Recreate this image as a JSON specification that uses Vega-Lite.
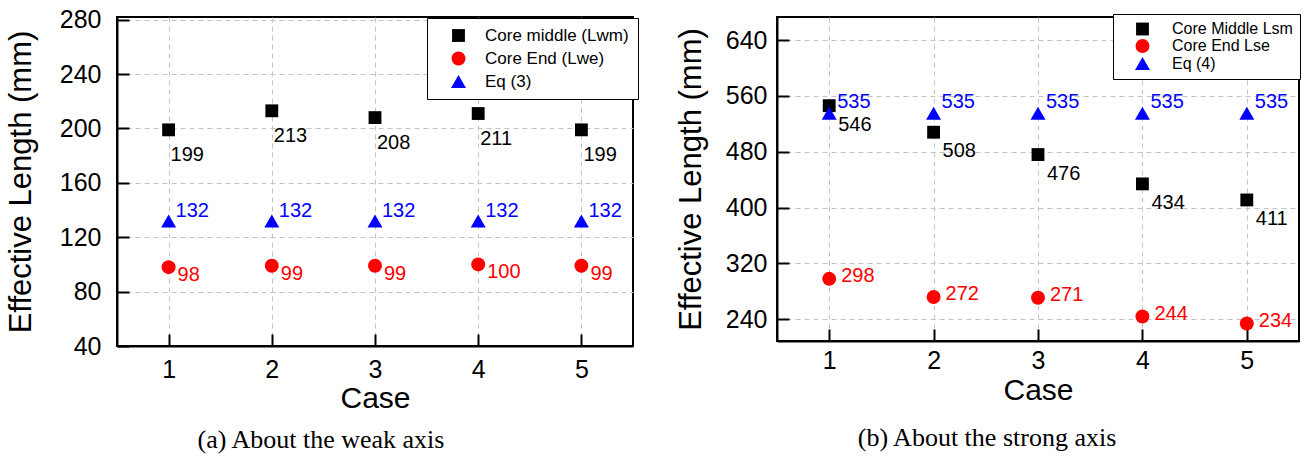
{
  "$schema": "https://vega.github.io/schema/vega-lite/v6.json",
  "background": "white",
  "padding": {"left": 4, "top": 6, "right": 2, "bottom": 2},
  "datasets": {
    "weak": [
      {"case": 1, "series": "Core middle (Lwm)", "value": 199},
      {"case": 2, "series": "Core middle (Lwm)", "value": 213},
      {"case": 3, "series": "Core middle (Lwm)", "value": 208},
      {"case": 4, "series": "Core middle (Lwm)", "value": 211},
      {"case": 5, "series": "Core middle (Lwm)", "value": 199},
      {"case": 1, "series": "Core End (Lwe)", "value": 98},
      {"case": 2, "series": "Core End (Lwe)", "value": 99},
      {"case": 3, "series": "Core End (Lwe)", "value": 99},
      {"case": 4, "series": "Core End (Lwe)", "value": 100},
      {"case": 5, "series": "Core End (Lwe)", "value": 99},
      {"case": 1, "series": "Eq (3)", "value": 132},
      {"case": 2, "series": "Eq (3)", "value": 132},
      {"case": 3, "series": "Eq (3)", "value": 132},
      {"case": 4, "series": "Eq (3)", "value": 132},
      {"case": 5, "series": "Eq (3)", "value": 132}
    ],
    "strong": [
      {"case": 1, "series": "Core Middle Lsm", "value": 546},
      {"case": 2, "series": "Core Middle Lsm", "value": 508},
      {"case": 3, "series": "Core Middle Lsm", "value": 476},
      {"case": 4, "series": "Core Middle Lsm", "value": 434},
      {"case": 5, "series": "Core Middle Lsm", "value": 411},
      {"case": 1, "series": "Core End Lse", "value": 298},
      {"case": 2, "series": "Core End Lse", "value": 272},
      {"case": 3, "series": "Core End Lse", "value": 271},
      {"case": 4, "series": "Core End Lse", "value": 244},
      {"case": 5, "series": "Core End Lse", "value": 234},
      {"case": 1, "series": "Eq (4)", "value": 535},
      {"case": 2, "series": "Eq (4)", "value": 535},
      {"case": 3, "series": "Eq (4)", "value": 535},
      {"case": 4, "series": "Eq (4)", "value": 535},
      {"case": 5, "series": "Eq (4)", "value": 535}
    ]
  },
  "concat": [
    {
      "width": 516,
      "height": 329,
      "data": {"name": "weak"},
      "title": {"text": "(a) About the weak axis", "orient": "bottom", "anchor": "middle", "frame": "group", "dx": -54, "offset": 14, "font": "Liberation Serif", "fontSize": 26, "fontWeight": "normal", "color": "black"},
      "encoding": {
        "x": {"field": "case", "type": "quantitative", "scale": {"domain": [0.5, 5.5], "nice": false, "zero": false},
              "axis": {"values": [1, 2, 3, 4, 5], "format": "d", "title": "Case", "labelPadding": 23, "titlePadding": 1, "titleFontSize": 30}},
        "y": {"field": "value", "type": "quantitative", "scale": {"domain": [40, 282], "nice": false, "zero": false},
              "axis": {"values": [40, 80, 120, 160, 200, 240, 280], "title": "Effective Length (mm)", "labelPadding": 28, "titlePadding": 22}}
      },
      "layer": [
        {
          "mark": {"type": "point", "filled": true, "opacity": 1, "strokeWidth": 0},
          "encoding": {
            "shape": {"field": "series", "type": "nominal", "scale": {"domain": ["Core middle (Lwm)", "Core End (Lwe)", "Eq (3)"], "range": ["square", "circle", "triangle-up"]},
                      "legend": {"title": null, "orient": "none", "legendX": 310, "legendY": 1, "padding": 9, "strokeColor": "black", "fillColor": "white", "labelFontSize": 17, "labelColor": "black", "labelFont": "Liberation Sans", "rowPadding": 5, "symbolOffset": 14, "labelOffset": 18, "labelLimit": 300}},
            "color": {"field": "series", "type": "nominal", "scale": {"domain": ["Core middle (Lwm)", "Core End (Lwe)", "Eq (3)"], "range": ["#000000", "#ff0000", "#0000ff"]},
                      "legend": {"title": null, "orient": "none", "legendX": 310, "legendY": 1, "padding": 9, "strokeColor": "black", "fillColor": "white", "labelFontSize": 17, "labelColor": "black", "labelFont": "Liberation Sans", "rowPadding": 5, "symbolOffset": 14, "labelOffset": 18, "labelLimit": 300}},
            "size": {"field": "series", "type": "nominal", "scale": {"domain": ["Core middle (Lwm)", "Core End (Lwe)", "Eq (3)"], "range": [165, 225, 330]},
                      "legend": {"title": null, "orient": "none", "legendX": 310, "legendY": 1, "padding": 9, "strokeColor": "black", "fillColor": "white", "labelFontSize": 17, "labelColor": "black", "labelFont": "Liberation Sans", "rowPadding": 5, "symbolOffset": 14, "labelOffset": 18, "labelLimit": 300}}
          }
        },
        {
          "transform": [{"filter": "datum.series == 'Core middle (Lwm)'"}],
          "mark": {"type": "text", "align": "left", "baseline": "middle", "dx": 2, "dy": 25, "fontSize": 20, "color": "#000000"},
          "encoding": {"text": {"field": "value", "type": "quantitative"}}
        },
        {
          "transform": [{"filter": "datum.series == 'Core End (Lwe)'"}],
          "mark": {"type": "text", "align": "left", "baseline": "middle", "dx": 9, "dy": 8, "fontSize": 20, "color": "#ff0000"},
          "encoding": {"text": {"field": "value", "type": "quantitative"}}
        },
        {
          "transform": [{"filter": "datum.series == 'Eq (3)'"}],
          "mark": {"type": "text", "align": "left", "baseline": "middle", "dx": 7, "dy": -10, "fontSize": 20, "color": "#0000ff"},
          "encoding": {"text": {"field": "value", "type": "quantitative"}}
        }
      ]
    },
    {
      "width": 522,
      "height": 324,
      "data": {"name": "strong"},
      "title": {"text": "(b) About the strong axis", "orient": "bottom", "anchor": "middle", "frame": "group", "dx": -51, "offset": 20, "font": "Liberation Serif", "fontSize": 26, "fontWeight": "normal", "color": "black"},
      "encoding": {
        "x": {"field": "case", "type": "quantitative", "scale": {"domain": [0.5, 5.5], "nice": false, "zero": false},
              "axis": {"values": [1, 2, 3, 4, 5], "format": "d", "title": "Case", "labelPadding": 19, "titlePadding": 2, "titleFontSize": 30}},
        "y": {"field": "value", "type": "quantitative", "scale": {"domain": [209, 673], "nice": false, "zero": false},
              "axis": {"values": [240, 320, 400, 480, 560, 640], "title": "Effective Length (mm)", "labelPadding": 22, "titlePadding": 18}}
      },
      "layer": [
        {
          "mark": {"type": "point", "filled": true, "opacity": 1, "strokeWidth": 0},
          "encoding": {
            "shape": {"field": "series", "type": "nominal", "scale": {"domain": ["Core Middle Lsm", "Core End Lse", "Eq (4)"], "range": ["square", "circle", "triangle-up"]},
                      "legend": {"title": null, "orient": "none", "legendX": 336, "legendY": -3, "padding": 7, "strokeColor": "black", "fillColor": "white", "labelFontSize": 16, "labelColor": "black", "labelFont": "Liberation Sans", "rowPadding": 1, "symbolOffset": 14, "labelOffset": 21, "labelLimit": 300}},
            "color": {"field": "series", "type": "nominal", "scale": {"domain": ["Core Middle Lsm", "Core End Lse", "Eq (4)"], "range": ["#000000", "#ff0000", "#0000ff"]},
                      "legend": {"title": null, "orient": "none", "legendX": 336, "legendY": -3, "padding": 7, "strokeColor": "black", "fillColor": "white", "labelFontSize": 16, "labelColor": "black", "labelFont": "Liberation Sans", "rowPadding": 1, "symbolOffset": 14, "labelOffset": 21, "labelLimit": 300}},
            "size": {"field": "series", "type": "nominal", "scale": {"domain": ["Core Middle Lsm", "Core End Lse", "Eq (4)"], "range": [165, 225, 330]},
                      "legend": {"title": null, "orient": "none", "legendX": 336, "legendY": -3, "padding": 7, "strokeColor": "black", "fillColor": "white", "labelFontSize": 16, "labelColor": "black", "labelFont": "Liberation Sans", "rowPadding": 1, "symbolOffset": 14, "labelOffset": 21, "labelLimit": 300}}
          }
        },
        {
          "transform": [{"filter": "datum.series == 'Core Middle Lsm'"}],
          "mark": {"type": "text", "align": "left", "baseline": "middle", "dx": 9, "dy": 19, "fontSize": 20, "color": "#000000"},
          "encoding": {"text": {"field": "value", "type": "quantitative"}}
        },
        {
          "transform": [{"filter": "datum.series == 'Core End Lse'"}],
          "mark": {"type": "text", "align": "left", "baseline": "middle", "dx": 12, "dy": -3, "fontSize": 20, "color": "#ff0000"},
          "encoding": {"text": {"field": "value", "type": "quantitative"}}
        },
        {
          "transform": [{"filter": "datum.series == 'Eq (4)'"}],
          "mark": {"type": "text", "align": "left", "baseline": "middle", "dx": 8, "dy": -11, "fontSize": 20, "color": "#0000ff"},
          "encoding": {"text": {"field": "value", "type": "quantitative"}}
        }
      ]
    }
  ],
  "columns": 2,
  "align": "none",
  "spacing": 34,
  "resolve": {
    "scale": {"color": "independent", "shape": "independent", "size": "independent", "x": "independent", "y": "independent"},
    "legend": {"color": "independent", "shape": "independent", "size": "independent"}
  },
  "config": {
    "font": "Liberation Sans",
    "view": {"stroke": "black", "strokeWidth": 2},
    "axis": {
      "grid": true, "gridColor": "#c4c4c4", "gridDash": [5, 4], "gridWidth": 1,
      "domain": true, "domainColor": "black", "domainWidth": 2,
      "ticks": true, "tickColor": "black", "tickWidth": 2, "tickSize": -12,
      "labelFont": "Liberation Sans", "labelFontSize": 25, "labelColor": "black",
      "titleFont": "Liberation Sans", "titleFontSize": 31, "titleFontWeight": "normal", "titleColor": "black"
    }
  }
}
